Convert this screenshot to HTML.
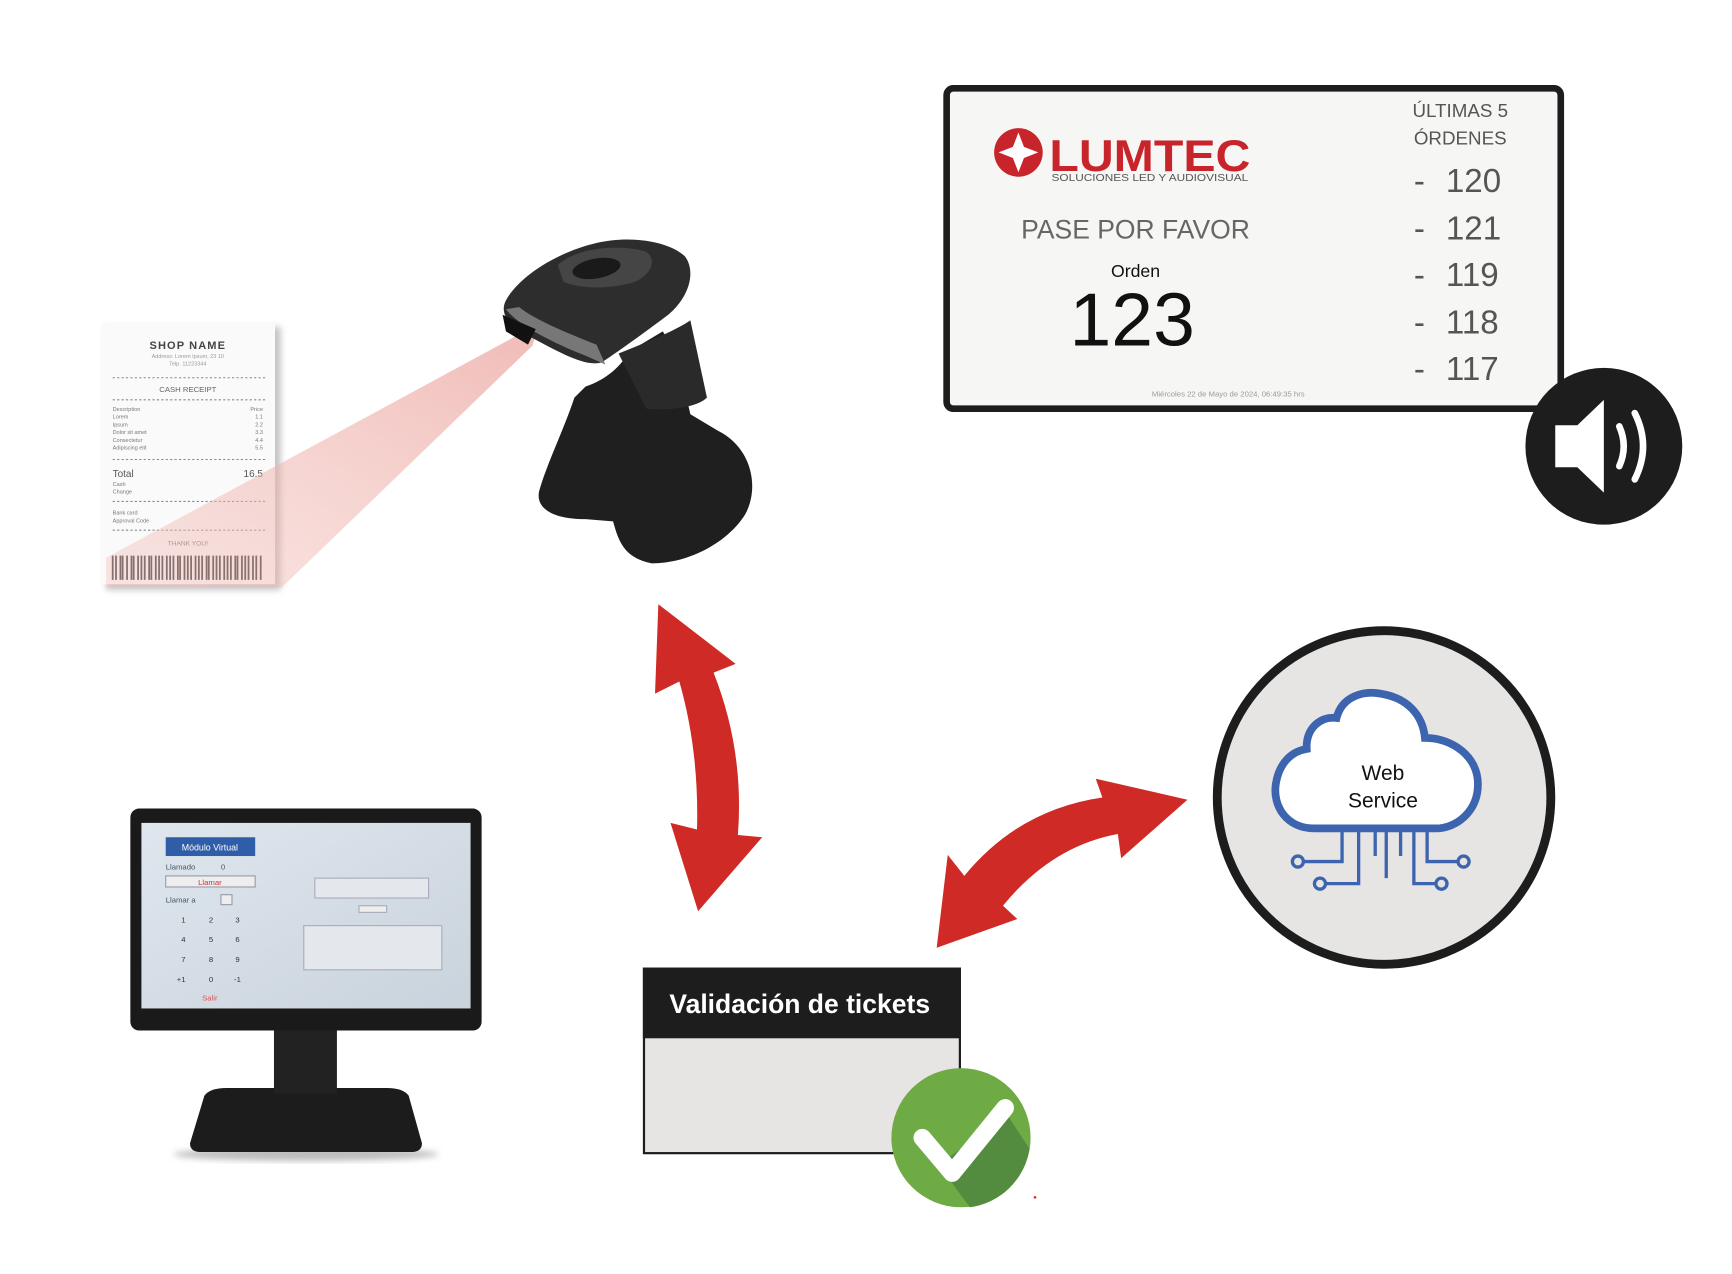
<!DOCTYPE html>
<html><head><meta charset="utf-8"><style>
html,body{margin:0;padding:0;background:#fff;width:1732px;height:1274px;overflow:hidden}
svg{display:block}
text{font-family:"Liberation Sans","DejaVu Sans",sans-serif}
</style></head><body>
<svg width="1732" height="1274" viewBox="0 0 1568 1153.4" xmlns="http://www.w3.org/2000/svg">
<defs>
<linearGradient id="beam" x1="1" y1="0" x2="0" y2="1">
<stop offset="0" stop-color="#e99a94" stop-opacity="0.9"/>
<stop offset="1" stop-color="#f3c3bd" stop-opacity="0.55"/>
</linearGradient>
<linearGradient id="scr" x1="0" y1="0" x2="1" y2="1">
<stop offset="0" stop-color="#dfe6ee"/><stop offset="1" stop-color="#c9d3dc"/>
</linearGradient>
<filter id="sh" x="-20%" y="-20%" width="140%" height="140%"><feGaussianBlur stdDeviation="3"/></filter>
</defs>

<!-- Receipt -->
<rect x="96" y="296" width="158" height="238" fill="#999" filter="url(#sh)" opacity="0.6"/>
<rect x="92" y="292" width="157" height="237" fill="#fafafa"/>
<text x="170" y="316" font-size="10" text-anchor="middle" fill="#444" font-weight="bold" letter-spacing="1">SHOP NAME</text>
<text x="170" y="324" font-size="5" text-anchor="middle" fill="#999">Address: Lorem Ipsum, 23 10</text>
<text x="170" y="331" font-size="5" text-anchor="middle" fill="#999">Telp. 11223344</text>
<line x1="102" y1="342" x2="240" y2="342" stroke="#888" stroke-dasharray="2,2"/>
<text x="170" y="355" font-size="7" text-anchor="middle" fill="#666">CASH RECEIPT</text>
<line x1="102" y1="362" x2="240" y2="362" stroke="#888" stroke-dasharray="2,2"/>
<g font-size="5" fill="#777">
<text x="102" y="372">Description</text><text x="238" y="372" text-anchor="end">Price</text>
<text x="102" y="379">Lorem</text><text x="238" y="379" text-anchor="end">1.1</text>
<text x="102" y="386">Ipsum</text><text x="238" y="386" text-anchor="end">2.2</text>
<text x="102" y="393">Dolor sit amet</text><text x="238" y="393" text-anchor="end">3.3</text>
<text x="102" y="400">Consectetur</text><text x="238" y="400" text-anchor="end">4.4</text>
<text x="102" y="407">Adipiscing elit</text><text x="238" y="407" text-anchor="end">5.5</text>
</g>
<line x1="102" y1="416" x2="240" y2="416" stroke="#888" stroke-dasharray="2,2"/>
<text x="102" y="432" font-size="9" fill="#555">Total</text><text x="238" y="432" font-size="9" fill="#555" text-anchor="end">16.5</text>
<g font-size="5" fill="#777"><text x="102" y="440">Cash</text><text x="102" y="447">Change</text>
<text x="102" y="466">Bank card</text><text x="102" y="473">Approval Code</text></g>
<line x1="102" y1="454" x2="240" y2="454" stroke="#888" stroke-dasharray="2,2"/>
<line x1="102" y1="480" x2="240" y2="480" stroke="#888" stroke-dasharray="2,2"/>
<text x="170" y="494" font-size="6" text-anchor="middle" fill="#777">THANK YOU!</text>
<g stroke="#333">
<path d="M102 503v22M105 503v22M109 503v22M111 503v22M115 503v22M119 503v22M121 503v22M125 503v22M128 503v22M131 503v22M135 503v22M137 503v22M141 503v22M144 503v22M147 503v22M151 503v22M154 503v22M157 503v22M161 503v22M163 503v22M167 503v22M170 503v22M173 503v22M177 503v22M180 503v22M183 503v22M187 503v22M189 503v22M193 503v22M196 503v22M199 503v22M203 503v22M206 503v22M209 503v22M213 503v22M215 503v22M219 503v22M222 503v22M225 503v22M229 503v22M232 503v22M236 503v22" stroke-width="1.6"/>
</g>
<!-- beam -->
<polygon points="488,293 482,313 255,532 96,532 96,505" fill="url(#beam)" opacity="0.75"/>

<!-- Scanner -->
<g fill="#1f1f1f">
<path d="M520,360 C510,390 495,420 488,445 C485,460 500,470 530,470 L555,472 C560,490 565,505 590,510 C625,510 660,490 675,465 C688,440 680,405 650,390 L625,375 C618,345 612,318 600,300 L570,318 C560,335 545,345 530,350 Z"/>
<path d="M560,320 C585,310 610,300 625,290 L640,360 C630,370 600,372 585,370 Z" fill="#2a2a2a"/>
<path d="M458,272 C470,250 505,228 540,220 C570,213 605,218 620,232 C630,245 625,268 605,285 C585,300 560,318 545,328 C530,333 505,318 478,304 C460,295 452,283 458,272 Z" fill="#2d2d2d"/>
<path d="M505,240 C520,225 560,220 585,228 C595,235 590,248 575,255 C555,262 525,262 510,255 Z" fill="#454545"/>
<ellipse cx="540" cy="243" rx="22" ry="9" fill="#1a1a1a" transform="rotate(-10 540 243)"/>
<path d="M458,280 C470,295 500,310 530,322 L548,330 L540,312 C515,302 485,290 470,278 Z" fill="#777"/>
<path d="M455,285 L485,298 L478,312 L458,300 Z" fill="#111"/>
</g>

<!-- Display -->
<rect x="857" y="80" width="556" height="290" rx="6" fill="#f6f6f4" stroke="#1d1d1d" stroke-width="6"/>
<circle cx="922" cy="138" r="22" fill="#c8242b"/>
<path d="M922,120 L927,133 L940,138 L927,143 L922,156 L917,143 L904,138 L917,133 Z" fill="#fff"/>
<text x="950" y="155" font-size="40" font-weight="bold" fill="#c8242b" textLength="182" lengthAdjust="spacingAndGlyphs">LUMTEC</text>
<text x="952" y="164" font-size="9" fill="#555" textLength="178" lengthAdjust="spacingAndGlyphs">SOLUCIONES LED Y AUDIOVISUAL</text>
<text x="1028" y="216" font-size="24" fill="#666" text-anchor="middle">PASE POR FAVOR</text>
<text x="1028" y="251" font-size="16" fill="#111" text-anchor="middle">Orden</text>
<text x="1025" y="313" font-size="68" fill="#111" text-anchor="middle">123</text>
<text x="1322" y="106" font-size="17" fill="#555" text-anchor="middle">ÚLTIMAS 5</text>
<text x="1322" y="131" font-size="17" fill="#555" text-anchor="middle">ÓRDENES</text>
<g font-size="30" fill="#555">
<text x="1280" y="174">-</text><text x="1309" y="174">120</text>
<text x="1280" y="217">-</text><text x="1309" y="217">121</text>
<text x="1280" y="259">-</text><text x="1309" y="259">119</text>
<text x="1280" y="302">-</text><text x="1309" y="302">118</text>
<text x="1280" y="344">-</text><text x="1309" y="344">117</text>
</g>
<text x="1112" y="359" font-size="7" fill="#999" text-anchor="middle">Miércoles 22 de Mayo de 2024,  06:49:35 hrs</text>

<!-- speaker -->
<circle cx="1452" cy="404" r="71" fill="#1d1d1d"/>
<path d="M1408,385 L1428,385 L1452,362 L1452,446 L1428,423 L1408,423 Z" fill="#fff"/>
<path d="M1466,386 Q1474,404 1466,422" stroke="#fff" stroke-width="6" fill="none" stroke-linecap="round"/>
<path d="M1480,374 Q1495,404 1480,434" stroke="#fff" stroke-width="6" fill="none" stroke-linecap="round"/>

<!-- Red arrows -->
<path d="M596,547 L666,601 L646,609 Q674,680 668,756 L690,758 L632,825 L607,745 L631,751 Q633,680 615,617 L593,628 Z" fill="#cf2a25"/>
<path d="M848,858 L858,774 L873,793 Q922,733 998,722 L992,705 L1075,724 L1015,777 L1012,755 Q952,766 908,820 L921,832 Z" fill="#cf2a25"/>

<!-- Web service -->
<circle cx="1253" cy="722" r="151" fill="#e6e5e3" stroke="#1d1d1d" stroke-width="8"/>
<path d="M1190,750 C1165,750 1152,730 1155,710 C1158,690 1170,680 1183,678 C1182,660 1195,648 1210,650 C1215,630 1235,625 1250,628 C1275,632 1288,648 1290,668 C1315,668 1338,685 1338,710 C1338,735 1318,750 1300,750 Z" fill="#fff" stroke="#3d64ae" stroke-width="7"/>
<text x="1252" y="706" font-size="19" fill="#111" text-anchor="middle">Web</text>
<text x="1252" y="731" font-size="19" fill="#111" text-anchor="middle">Service</text>
<g stroke="#3d64ae" stroke-width="3" fill="none">
<path d="M1215,753 V780 H1180"/><circle cx="1175" cy="780" r="5"/>
<path d="M1230,753 V800 H1200"/><circle cx="1195" cy="800" r="5"/>
<path d="M1245,753 V775"/><path d="M1255,753 V795"/><path d="M1268,753 V775"/>
<path d="M1280,753 V800 H1300"/><circle cx="1305" cy="800" r="5"/>
<path d="M1292,753 V780 H1320"/><circle cx="1325" cy="780" r="5"/>
</g>

<!-- Validation box -->
<rect x="583" y="877" width="286" height="167" fill="#e6e5e3" stroke="#1d1d1d" stroke-width="2"/>
<rect x="582" y="876" width="288" height="64" fill="#1d1d1d"/>
<text x="724" y="917" font-size="24" font-weight="bold" fill="#fff" text-anchor="middle">Validación de tickets</text>
<circle cx="870" cy="1030" r="63" fill="#6eab45"/>
<path d="M850,1055 L878,1093 A63,63 0 0 0 932,1040 L911,1008 Z" fill="#548c3f"/>
<path d="M835,1030 L862,1062 L910,1003" stroke="#fff" stroke-width="16" fill="none" stroke-linecap="round" stroke-linejoin="round"/>
<circle cx="937" cy="1084" r="1.2" fill="#d33"/>

<!-- Monitor -->
<ellipse cx="277" cy="1045" rx="120" ry="6" fill="#bbb" filter="url(#sh)"/>
<path d="M185,992 Q190,985 205,985 L350,985 Q365,985 370,992 L382,1035 Q382,1043 372,1043 L182,1043 Q172,1043 172,1035 Z" fill="#1c1c1c"/>
<rect x="248" y="925" width="57" height="65" fill="#222"/>
<rect x="118" y="732" width="318" height="201" rx="8" fill="#1a1a1a"/>
<rect x="128" y="745" width="298" height="168" fill="url(#scr)"/>
<rect x="150" y="758" width="81" height="17" fill="#2f5da8"/>
<text x="190" y="770" font-size="8" fill="#fff" text-anchor="middle">Módulo Virtual</text>
<g font-size="7" fill="#456">
<text x="150" y="787">Llamado</text><text x="200" y="787">0</text>
<text x="150" y="817">Llamar a</text>
</g>
<rect x="150" y="793" width="81" height="10" fill="#eee" stroke="#99a"/>
<text x="190" y="801" font-size="7" fill="#c33" text-anchor="middle">Llamar</text>
<rect x="200" y="810" width="10" height="9" fill="#eee" stroke="#99a"/>
<g font-size="7" fill="#333" text-anchor="middle">
<text x="166" y="835">1</text><text x="191" y="835">2</text><text x="215" y="835">3</text>
<text x="166" y="853">4</text><text x="191" y="853">5</text><text x="215" y="853">6</text>
<text x="166" y="871">7</text><text x="191" y="871">8</text><text x="215" y="871">9</text>
<text x="164" y="889">+1</text><text x="191" y="889">0</text><text x="215" y="889">-1</text>
</g>
<text x="190" y="906" font-size="7" fill="#d55" text-anchor="middle">Salir</text>
<rect x="285" y="795" width="103" height="18" fill="#e4e8ec" stroke="#aab"/>
<rect x="275" y="838" width="125" height="40" fill="#e4e8ec" stroke="#aab"/>
<rect x="325" y="820" width="25" height="6" fill="#eee" stroke="#aab"/>
</svg>
</body></html>
